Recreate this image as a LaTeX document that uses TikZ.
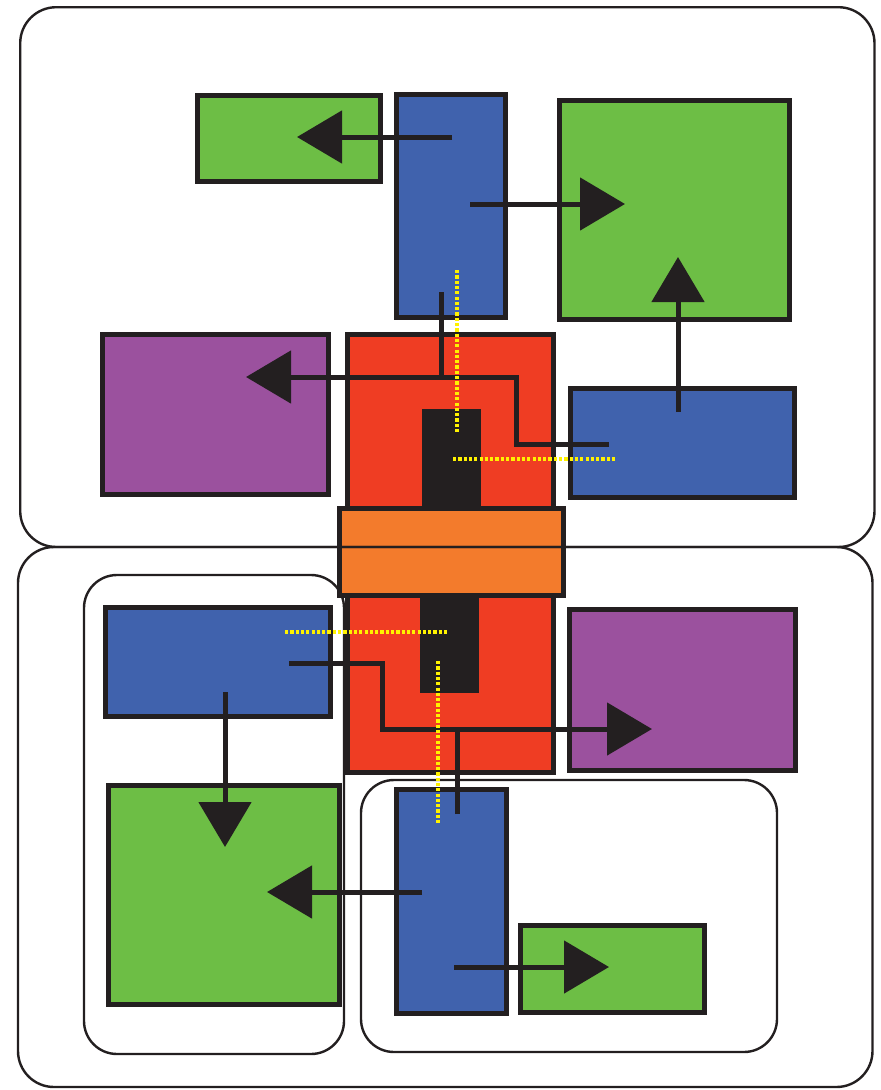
\documentclass[tikz,border=0pt]{standalone}
\usetikzlibrary{arrows.meta}
\definecolor{cgreen}{HTML}{6DBE45}
\definecolor{cblue}{HTML}{4062AD}
\definecolor{cpurple}{HTML}{9B519E}
\definecolor{cred}{HTML}{EF3D23}
\definecolor{corange}{HTML}{F37B2C}
\definecolor{cblack}{HTML}{231F20}
\definecolor{cyellow}{HTML}{FFF200}
\tikzset{
  box/.style={draw=cblack, line width=5pt, inner sep=0pt, outer sep=0pt, rectangle},
  frame/.style={draw=cblack, line width=2.4pt, rounded corners=33pt},
  conn/.style={draw=cblack, line width=5pt},
  arr/.style={conn, -{Triangle[length=45pt,width=52pt]}},
  guide/.style={draw=cyellow, line width=4pt, dash pattern=on 3.2pt off 2.1pt}
}
\begin{document}
\begin{tikzpicture}[x=1pt,y=-1pt]
\useasboundingbox (0,0) rectangle (881,1090);
% inner frames
\draw[frame] (84,575) rectangle (344,1054);
\draw[frame] (361,780) rectangle (777,1052);
% boxes
\node[box, fill=cgreen, minimum width=183pt, minimum height=86pt] (g1) at (289,138.5) {};
\node[box, fill=cblue, minimum width=109pt, minimum height=223pt] (b1) at (451,206) {};
\node[box, fill=cgreen, minimum width=230pt, minimum height=219pt] (g2) at (674.5,210) {};
\node[box, fill=cpurple, minimum width=226pt, minimum height=160pt] (p1) at (215.5,414.5) {};
\node[box, fill=cred, minimum width=206pt, minimum height=438pt] (red) at (450.5,553.5) {};
\node[fill=cblack, inner sep=0pt, minimum width=59pt, minimum height=111pt] (k1) at (451.5,464.5) {};
\node[fill=cblack, inner sep=0pt, minimum width=59pt, minimum height=103pt] (k2) at (449.5,641.5) {};
\node[box, fill=corange, minimum width=224pt, minimum height=87pt] (or) at (451.5,552) {};
\node[box, fill=cblue, minimum width=224pt, minimum height=109pt] (b2) at (682.5,443) {};
\node[box, fill=cblue, minimum width=225pt, minimum height=109pt] (b3) at (218,662) {};
\node[box, fill=cpurple, minimum width=226pt, minimum height=161pt] (p2) at (682.5,690) {};
\node[box, fill=cgreen, minimum width=231pt, minimum height=219pt] (g3) at (224,895) {};
\node[box, fill=cblue, minimum width=110pt, minimum height=224pt] (b4) at (451.5,901.5) {};
\node[box, fill=cgreen, minimum width=184pt, minimum height=87pt] (g4) at (612.5,969) {};
% outer frames
\draw[frame, rounded corners=36pt] (20.2,7.2) rectangle (874.5,547);
\draw[frame, rounded corners=36pt] (18,547) rectangle (872.5,1087);
% connector points
\coordinate (a1s) at (452,137);  \coordinate (a1e) at (297,137);
\coordinate (a2s) at (470,204);  \coordinate (a2e) at (625,204);
\coordinate (a3s) at (678,412);  \coordinate (a3e) at (678,257);
\coordinate (a4s) at (609,444);  \coordinate (a4m) at (516,377);  \coordinate (a4e) at (246,377);
\coordinate (a4b) at (441,292);  \coordinate (a4j) at (441,377);
\coordinate (a5s) at (289,663);  \coordinate (a5m) at (382,729);  \coordinate (a5e) at (652,729);
\coordinate (a5b) at (457,814);  \coordinate (a5j) at (457,729);
\coordinate (a6s) at (225,692);  \coordinate (a6e) at (225,847);
\coordinate (a7s) at (422,892);  \coordinate (a7e) at (267,892);
\coordinate (a8s) at (454,967);  \coordinate (a8e) at (609,967);
% connectors
\draw[arr] (a1s) -- (a1e);
\draw[arr] (a2s) -- (a2e);
\draw[arr] (a3s) -- (a3e);
\draw[arr] (a4s) -| (a4m) -- (a4e);
\draw[conn] (a4b) -- (a4j);
\draw[arr] (a5s) -| (a5m) -- (a5e);
\draw[conn] (a5b) -- (a5j);
\draw[arr] (a6s) -- (a6e);
\draw[arr] (a7s) -- (a7e);
\draw[arr] (a8s) -- (a8e);
% yellow guides
\coordinate (y1s) at (457,270); \coordinate (y1e) at (457,433);
\coordinate (y2s) at (453,459); \coordinate (y2e) at (615,459);
\coordinate (y3s) at (285,632); \coordinate (y3e) at (447,632);
\coordinate (y4s) at (438,661); \coordinate (y4e) at (438,823);
\draw[guide] (y1s) -- (y1e);
\draw[guide] (y2s) -- (y2e);
\draw[guide] (y3s) -- (y3e);
\draw[guide] (y4s) -- (y4e);
\end{tikzpicture}
\end{document}
